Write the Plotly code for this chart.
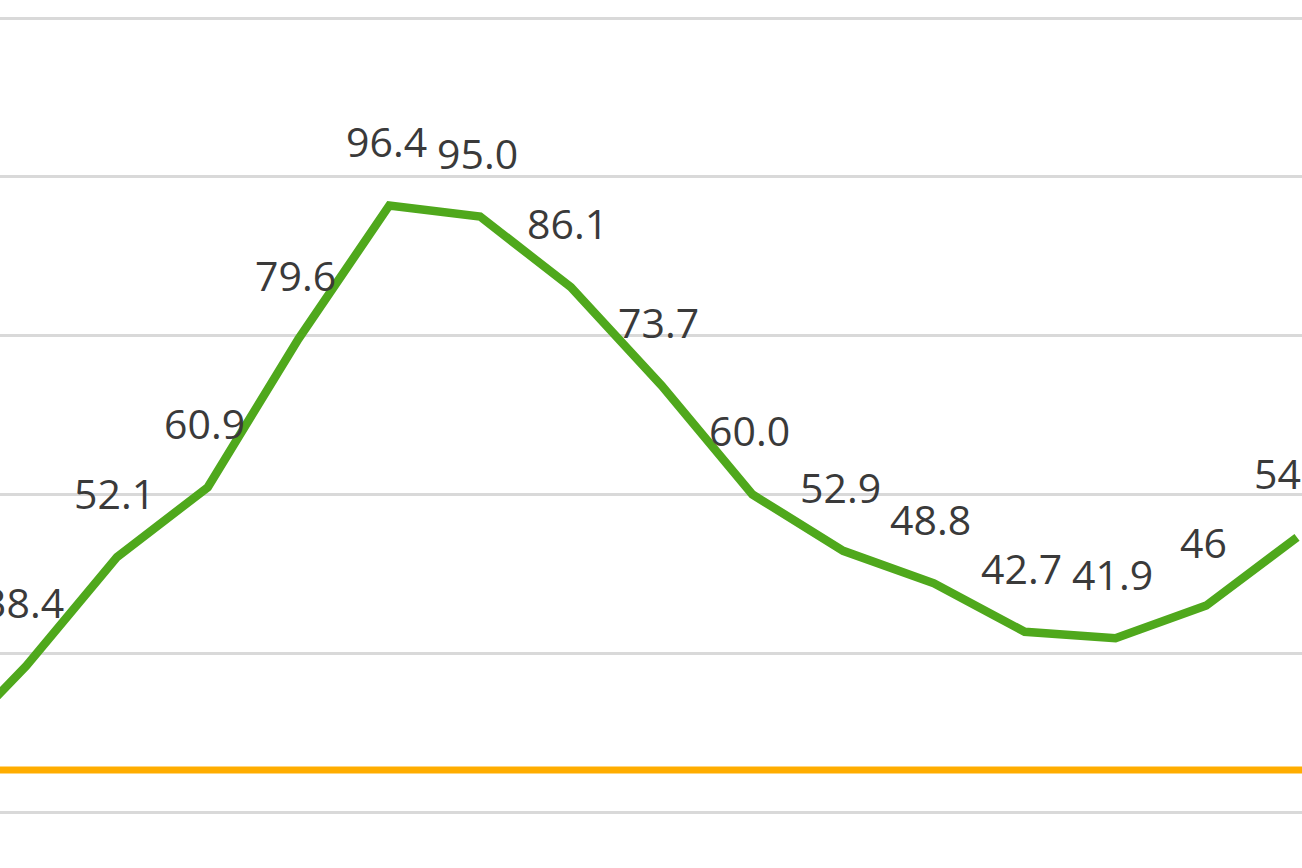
import plotly.graph_objs as go


# Данные: порядковые номера точек (первая точка за левым краем) и значения
points = list(range(-1, 15))
values = [26.5, 38.4, 52.1, 60.9, 79.6, 96.4, 95.0, 86.1, 73.7, 60.0, 52.9, 48.8, 42.7, 41.9, 46.0, 54.6]
labels = [None, '38.4', '52.1', '60.9', '79.6', '96.4', '95.0', '86.1', '73.7', '60.0', '52.9', '48.8',
          '42.7', '41.9', '46', '54.6']

# Уровень оранжевой линии
target = 25.3

fig = go.Figure()

# Зелёная линия
fig.add_trace(go.Scatter(x=points, y=values, mode='lines',
                         line=dict(color='#4FA81C', width=8.5), hoverinfo='skip'))

# Оранжевая горизонтальная линия
fig.add_hline(y=target, line=dict(color='#FFAD00', width=7), layer='above')

# Подписи данных над точками
for x, y, text in zip(points, values, labels):
    if text is None:
        continue
    fig.add_annotation(x=x, y=y, text=text, showarrow=False, yshift=64, xshift=-3,
                       font=dict(family='Open Sans', size=41, color='#3A3A3A'))

fig.update_xaxes(range=[-0.289, 14.055], showgrid=False, zeroline=False,
                 showticklabels=False, showline=False)
fig.update_yaxes(range=[12.95, 122.27], dtick=20, tick0=0, showgrid=True, gridcolor='#D9D9D9',
                 gridwidth=3, zeroline=False, showticklabels=False, showline=False)

fig.update_layout(
    width=1302,
    height=868,
    margin=dict(l=0, r=0, t=0, b=0),
    paper_bgcolor='white',
    plot_bgcolor='white',
    showlegend=False,
    hovermode=False
)

# Убираем отступы страницы, чтобы график занимал всё окно
fig.write_html('out.html', config={'displayModeBar': False},
               post_script="document.body.style.margin='0';")
